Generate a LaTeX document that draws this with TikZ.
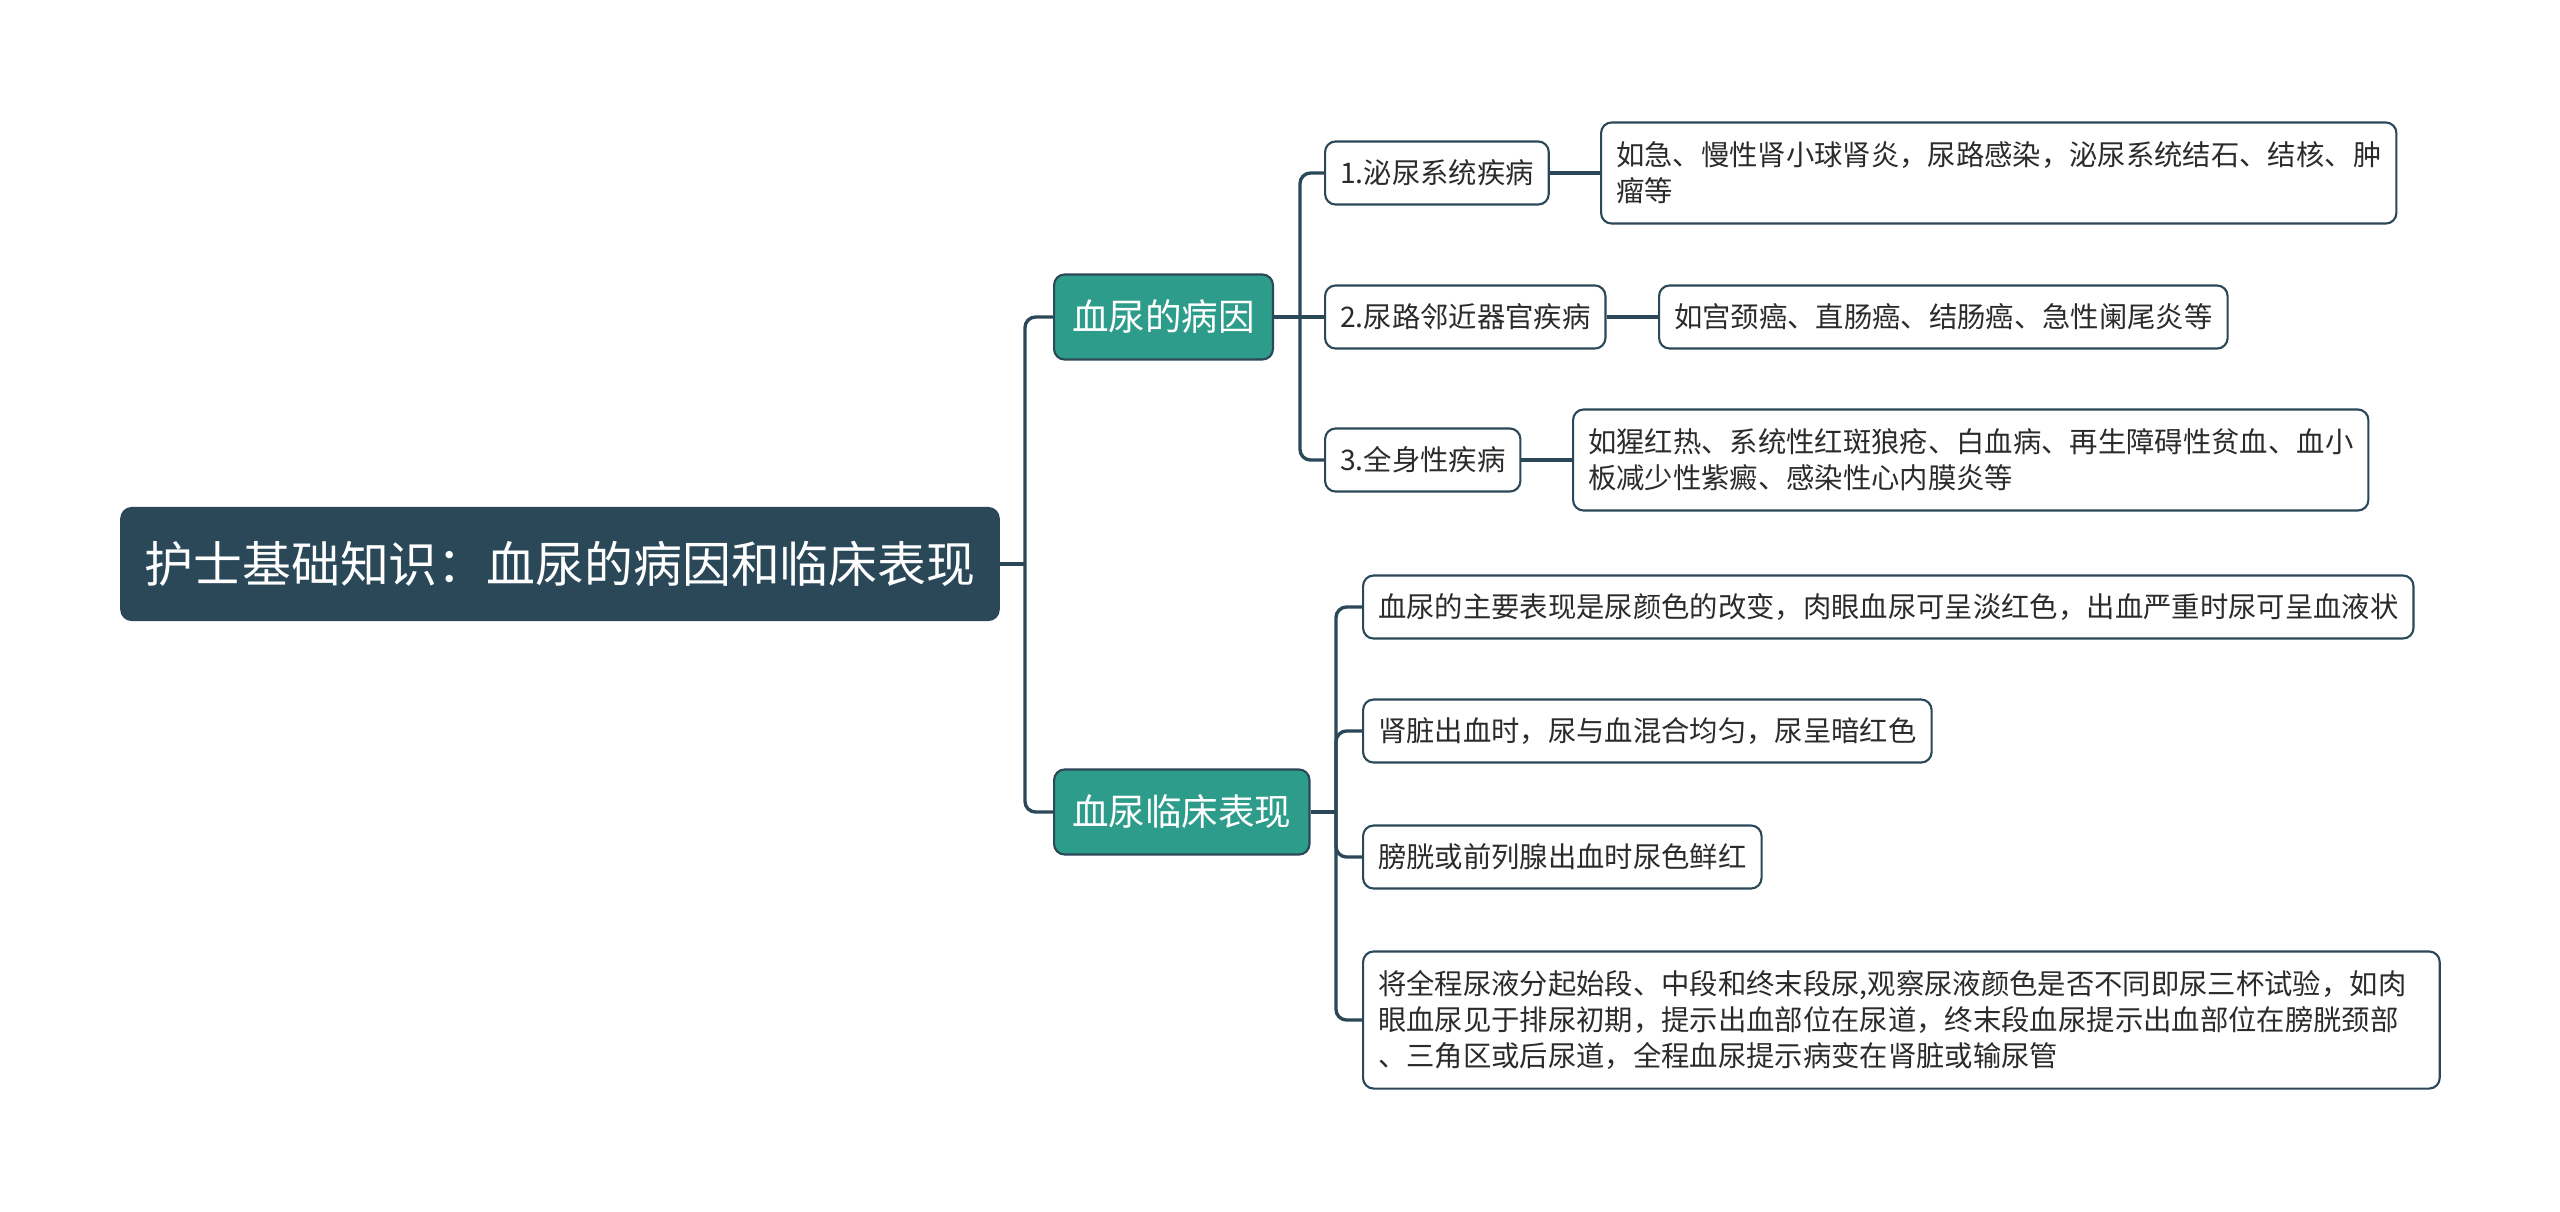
\documentclass[tikz,border=0pt]{standalone}
\usepackage{fontspec}
\newfontfamily\cjk{Noto Sans CJK SC}
\definecolor{slate}{HTML}{2A4858}
\definecolor{tealfill}{HTML}{2E9C8A}
\definecolor{leaftext}{HTML}{2B2B2B}
\tikzset{
	mapnode/.style = {
		rounded corners=3pt,
		anchor=west,
		align=left,
		inner ysep=0pt,
		line width=0.6pt,
		draw=slate
	},
	node_root/.style = {
		mapnode,
		anchor=center,
		align=center,
		fill=slate,
		text=white,
		font=\cjk\fontsize{13.9}{16}\selectfont,
		minimum width=8.77cm,
		minimum height=1.12cm
	},
	node_branch/.style = {
		mapnode,
		fill=tealfill,
		text=white,
		font=\cjk\fontsize{10.4}{12.5}\selectfont,
		inner xsep=0.18cm,
		minimum height=0.85cm
	},
	node_sub/.style = {
		mapnode,
		fill=white,
		text=leaftext,
		font=\cjk\fontsize{8.06}{10.3}\selectfont,
		inner xsep=0.15cm,
		minimum height=0.63cm
	},
	node_leaf/.style = {
		node_sub
	},
	link/.style = {
		draw=slate,
		line width=0.95pt,
		rounded corners=3pt
	}
}
\begin{document}
\begin{tikzpicture}[x=0.01cm,y=-0.01cm]
\fill[white] (0,0) rectangle (2560,1211);

\node [node_root] (root) at (560,564) {护士基础知识：血尿的病因和临床表现};

\node [node_branch] (cause) at (1053,317) {血尿的病因};
\node [node_branch] (sign) at (1053,812) {血尿临床表现};

\node [node_sub] (cause1) at (1324,173) {1.泌尿系统疾病};
\node [node_sub] (cause2) at (1324,317) {2.尿路邻近器官疾病};
\node [node_sub] (cause3) at (1324,460) {3.全身性疾病};

\node [node_leaf, minimum height=1.01cm] (detail1) at (1600,173) {如急、慢性肾小球肾炎，尿路感染，泌尿系统结石、结核、肿\\瘤等};
\node [node_leaf] (detail2) at (1658,317) {如宫颈癌、直肠癌、结肠癌、急性阑尾炎等};
\node [node_leaf, minimum height=1.01cm] (detail3) at (1572,460) {如猩红热、系统性红斑狼疮、白血病、再生障碍性贫血、血小\\板减少性紫癜、感染性心内膜炎等};

\node [node_leaf] (sign1) at (1362,607) {血尿的主要表现是尿颜色的改变，肉眼血尿可呈淡红色，出血严重时尿可呈血液状};
\node [node_leaf] (sign2) at (1362,731) {肾脏出血时，尿与血混合均匀，尿呈暗红色};
\node [node_leaf] (sign3) at (1362,857) {膀胱或前列腺出血时尿色鲜红};
\node [node_leaf, text width=10.46cm, minimum height=1.37cm] (sign4) at (1362,1020) {将全程尿液分起始段、中段和终末段尿,观察尿液颜色是否不同即尿三杯试验，如肉\\眼血尿见于排尿初期，提示出血部位在尿道，终末段血尿提示出血部位在膀胱颈部\\、三角区或后尿道，全程血尿提示病变在肾脏或输尿管};

\coordinate (j_root) at (1025,564);
\coordinate (j_cause) at (1300,317);
\coordinate (j_sign) at (1336,812);

\draw [link] (root.east) -- (j_root);
\draw [link] (cause.west) -| (j_root) |- (sign.west);

\draw [link] (cause.east) -- (cause2.west);
\draw [link] (cause1.west) -| (j_cause) |- (cause3.west);
\draw [link] (cause1.east) -- (detail1.west);
\draw [link] (cause2.east) -- (detail2.west);
\draw [link] (cause3.east) -- (detail3.west);

\draw [link] (sign.east) -- (j_sign);
\draw [link] (sign1.west) -| (j_sign) |- (sign4.west);
\draw [link] (j_sign) |- (sign2.west);
\draw [link] (j_sign) |- (sign3.west);
\end{tikzpicture}
\end{document}
